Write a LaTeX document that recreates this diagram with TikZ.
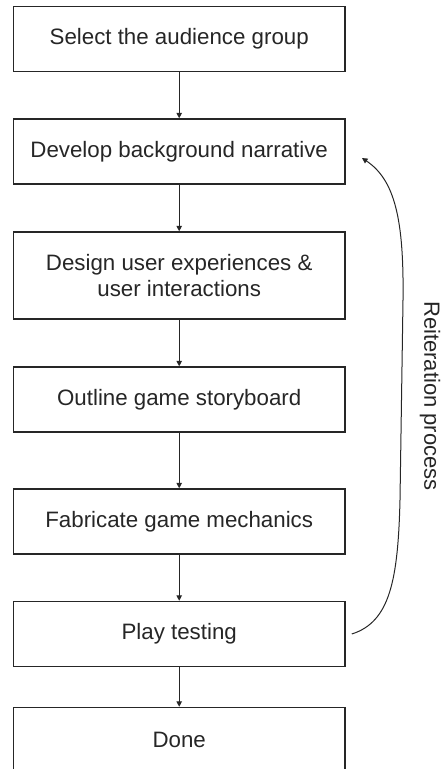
\documentclass[tikz,border=0pt]{standalone}
\usepackage{fontspec}
\setmainfont{Liberation Sans}
\usetikzlibrary{positioning,arrows.meta}

\tikzset{
  stepbox/.style={draw=black!85, line width=1.4pt, minimum width=331.7pt, minimum height=65pt,
    inner sep=0pt, align=center, text=black!85, font=\fontsize{22.3}{26.7}\selectfont},
  flow/.style={draw=black!85, line width=1.1pt, -{Triangle[length=5.5pt,width=5.5pt]}}
}

\begin{document}
\begin{tikzpicture}[x=1pt,y=-1pt]
\useasboundingbox (0,0) rectangle (441,769);
\node[stepbox] (s1) at (179.2,39.2) {Select the audience group};
\node[stepbox] (s2) at (179.2,151.5) {Develop background narrative};
\node[stepbox, minimum height=87pt] (s3) at (179.2,275.5) {Design user experiences \&\\user interactions};
\node[stepbox] (s4) at (179.2,399.5) {Outline game storyboard};
\node[stepbox] (s5) at (179.2,521.5) {Fabricate game mechanics};
\node[stepbox] (s6) at (179.2,634) {Play testing};
\node[stepbox] (s7) at (179.2,740) {Done};
  %----flow----%
  \draw[flow] (s1) -- (s2);
  \draw[flow] (s2) -- (s3);
  \draw[flow] (s3) -- (s4);
  \draw[flow] (s4) -- (s5);
  \draw[flow] (s5) -- (s6);
  \draw[flow] (s6) -- (s7);
  %----loop----%
  \coordinate (r) at (362,158); %back to s2
  \draw[flow, line width=1pt] ([xshift=6pt]s6.east) .. controls (390,622) and (398,580) .. (400,500)
    -- (403,300) .. controls (404,220) and (395,180) .. (r);
  \node[rotate=-90, text=black!85, font=\fontsize{22}{26}\selectfont] (lbl) at (430,396) {Reiteration process};
\end{tikzpicture}
\end{document}
